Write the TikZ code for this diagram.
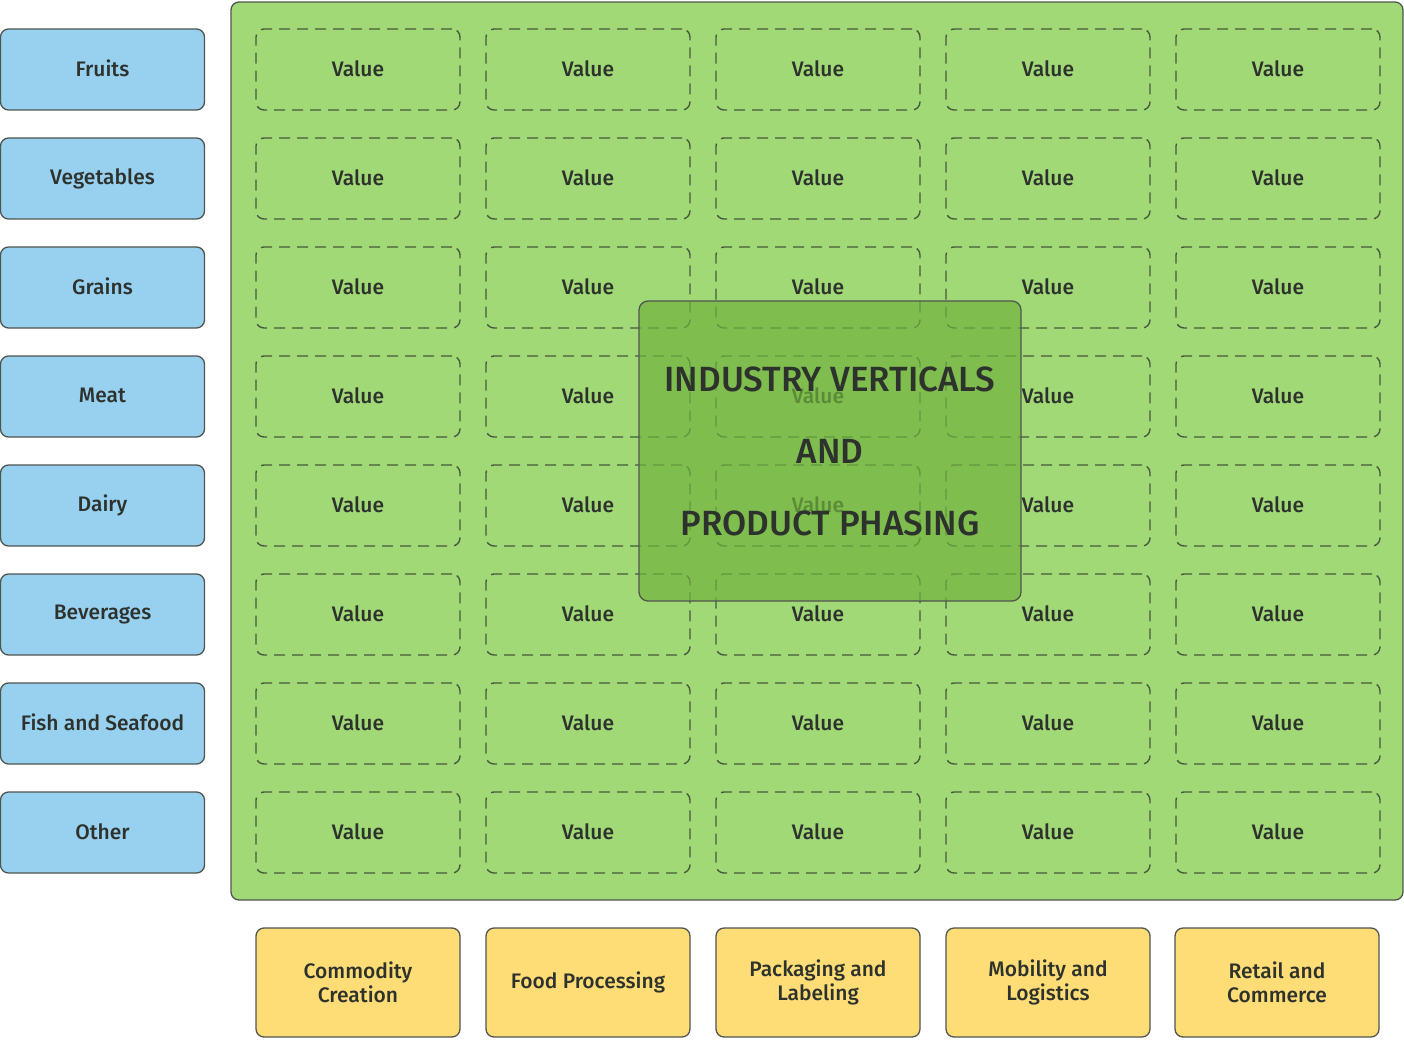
\documentclass[tikz,border=0pt]{standalone}
\usepackage{fontspec}
\setmainfont{Fira Sans}[UprightFont=* Medium]
\usetikzlibrary{positioning}
\definecolor{bluefill}{RGB}{152,208,240}
\definecolor{greenfill}{RGB}{162,217,119}
\definecolor{yellowfill}{RGB}{254,220,118}
\definecolor{overlayfill}{RGB}{112,178,62}
\definecolor{edgegrey}{RGB}{80,85,80}
\definecolor{dashgrey}{RGB}{70,90,60}
\definecolor{txt}{RGB}{45,50,45}
\tikzset{
  cell/.style={minimum width=204pt, minimum height=81pt, rounded corners=8pt, inner sep=0pt,
     font=\fontsize{21}{25}\selectfont, text=txt, align=center},
  catbox/.style={cell, draw=edgegrey, line width=1.3pt, fill=bluefill},
  valbox/.style={cell, draw=dashgrey, line width=1.4pt, dash pattern=on 11pt off 7pt},
  stagebox/.style={cell, minimum height=109pt, draw=edgegrey, line width=1.3pt, fill=yellowfill},
  panel/.style={draw=edgegrey, line width=1.3pt, fill=greenfill, rounded corners=8pt},
  overlay/.style={draw=edgegrey, line width=1.3pt, fill=overlayfill, fill opacity=0.7, text opacity=1,
     rounded corners=9pt, minimum width=382pt, minimum height=300pt, inner sep=0pt,
     font=\fontsize{35}{72}\selectfont, text=txt, align=center}
}
\begin{document}
\begin{tikzpicture}[x=1pt,y=-1pt]
\useasboundingbox (0,0) rectangle (1404,1040);
\node[panel, minimum width=1172pt, minimum height=898pt, inner sep=0pt] (panel) at (817,451) {};
\foreach \name [count=\i] in {Fruits,Vegetables,Grains,Meat,Dairy,Beverages,Fish and Seafood,Other} {
  \node[catbox] (cat\i) at (102.5,{69.5+109*(\i-1)}) {\raisebox{2pt}{\name}};
  \foreach \j in {1,...,5} {
    \node[valbox] (val\i\j) at ({358+230*(\j-1)},{69.5+109*(\i-1)}) {\raisebox{2pt}{Value}};
  }
}
\node[overlay] (title) at (830,451) {INDUSTRY VERTICALS\\AND\\PRODUCT PHASING};
\node[stagebox] (s1) at (358,982.5) {Commodity\\[-1pt]Creation};
\node[stagebox] (s2) at (588,982.5) {Food Processing};
\node[stagebox] (s3) at (818,982.5) {Packaging and\\[-1pt]Labeling};
\node[stagebox] (s4) at (1048,982.5) {Mobility and\\[-1pt]Logistics};
\node[stagebox] (s5) at (1277,982.5) {Retail and\\[-1pt]Commerce};
\end{tikzpicture}
\end{document}
